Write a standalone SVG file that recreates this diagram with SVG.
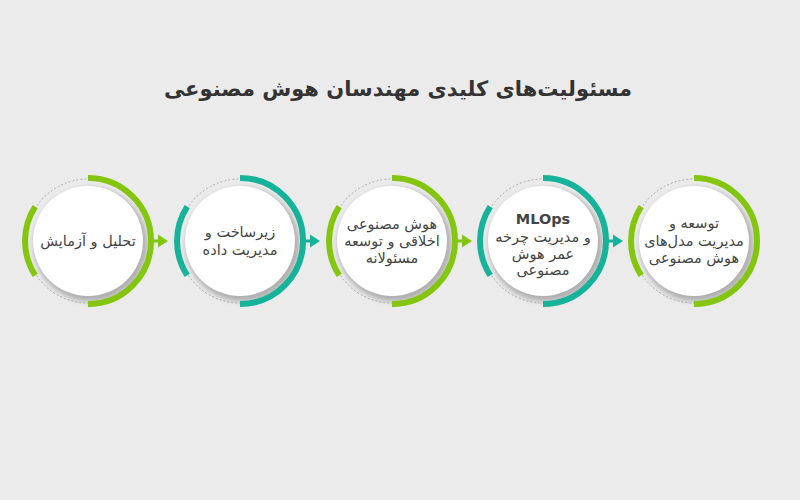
<svg xmlns="http://www.w3.org/2000/svg" width="800" height="500" viewBox="0 0 800 500">
<defs>
<style>
.dash{fill:none;stroke:#a8a8a8;stroke-width:1;stroke-dasharray:2 2}
.g{stroke:#84c60f}
.t{stroke:#17b29a}
.arc{fill:none;stroke-width:6}
.stem{stroke-width:3}
.lbl{font-family:"DejaVu Sans",sans-serif;font-size:14.5px;fill:#444;text-anchor:middle}
.title{font-family:"DejaVu Sans",sans-serif;font-size:21px;fill:#333;text-anchor:middle}
</style>
<filter id="sh" x="-30%" y="-30%" width="160%" height="160%">
<feGaussianBlur stdDeviation="2.5"/>
</filter>
<g id="ring">
<circle r="62" class="dash"/>
<circle cx="2.5" cy="3.5" r="57" fill="#b0b0b0" filter="url(#sh)"/>
<circle r="55" fill="#fff"/>
</g>
</defs>
<rect width="800" height="500" fill="#ebebeb"/>
<text class="title" x="398" y="96" font-weight="bold">مسئولیت‌های کلیدی مهندسان هوش مصنوعی</text>

<g id="connectors">
<g fill="#84c60f" stroke="#84c60f">
<line class="stem" x1="150" y1="241" x2="160" y2="241"/>
<polygon stroke="none" points="158,234.5 168,241 158,247.5"/>
<line class="stem" x1="454" y1="241" x2="464" y2="241"/>
<polygon stroke="none" points="462,234.5 472,241 462,247.5"/>
</g>
<g fill="#17b29a" stroke="#17b29a">
<line class="stem" x1="302" y1="241" x2="312" y2="241"/>
<polygon stroke="none" points="310,234.5 320,241 310,247.5"/>
<line class="stem" x1="605" y1="241" x2="615" y2="241"/>
<polygon stroke="none" points="613,234.5 623,241 613,247.5"/>
</g>
</g>

<g id="node1" transform="translate(88,241)">
<use href="#ring"/>
<path class="arc g" d="M0,-63 A63,63 0 0 1 0,63"/>
<path class="arc g" d="M-52.8,34.3 A63,63 0 0 1 -52.8,-34.3"/>
<text class="lbl" x="0" y="5">تحلیل و آزمایش</text>
</g>

<g id="node2" transform="translate(240,241)">
<use href="#ring"/>
<path class="arc t" d="M0,-63 A63,63 0 0 1 0,63"/>
<path class="arc t" d="M-52.8,34.3 A63,63 0 0 1 -52.8,-34.3"/>
<text class="lbl" x="0" y="-4">زیرساخت و</text>
<text class="lbl" x="0" y="14">مدیریت داده</text>
</g>

<g id="node3" transform="translate(392,241)">
<use href="#ring"/>
<path class="arc g" d="M0,-63 A63,63 0 0 1 0,63"/>
<path class="arc g" d="M-52.8,34.3 A63,63 0 0 1 -52.8,-34.3"/>
<text class="lbl" x="0" y="-12">هوش مصنوعی</text>
<text class="lbl" x="0" y="5">اخلاقی و توسعه</text>
<text class="lbl" x="0" y="22">مسئولانه</text>
</g>

<g id="node4" transform="translate(543,241)">
<use href="#ring"/>
<path class="arc t" d="M0,-63 A63,63 0 0 1 0,63"/>
<path class="arc t" d="M-52.8,34.3 A63,63 0 0 1 -52.8,-34.3"/>
<text class="lbl" x="0" y="-17" font-weight="bold">MLOps</text>
<text class="lbl" x="0" y="1">و مدیریت چرخه</text>
<text class="lbl" x="0" y="18">عمر هوش</text>
<text class="lbl" x="0" y="34">مصنوعی</text>
</g>

<g id="node5" transform="translate(694,241)">
<use href="#ring"/>
<path class="arc g" d="M0,-63 A63,63 0 0 1 0,63"/>
<path class="arc g" d="M-52.8,34.3 A63,63 0 0 1 -52.8,-34.3"/>
<text class="lbl" x="0" y="-13">توسعه و</text>
<text class="lbl" x="0" y="5">مدیریت مدل‌های</text>
<text class="lbl" x="0" y="22">هوش مصنوعی</text>
</g>
</svg>
